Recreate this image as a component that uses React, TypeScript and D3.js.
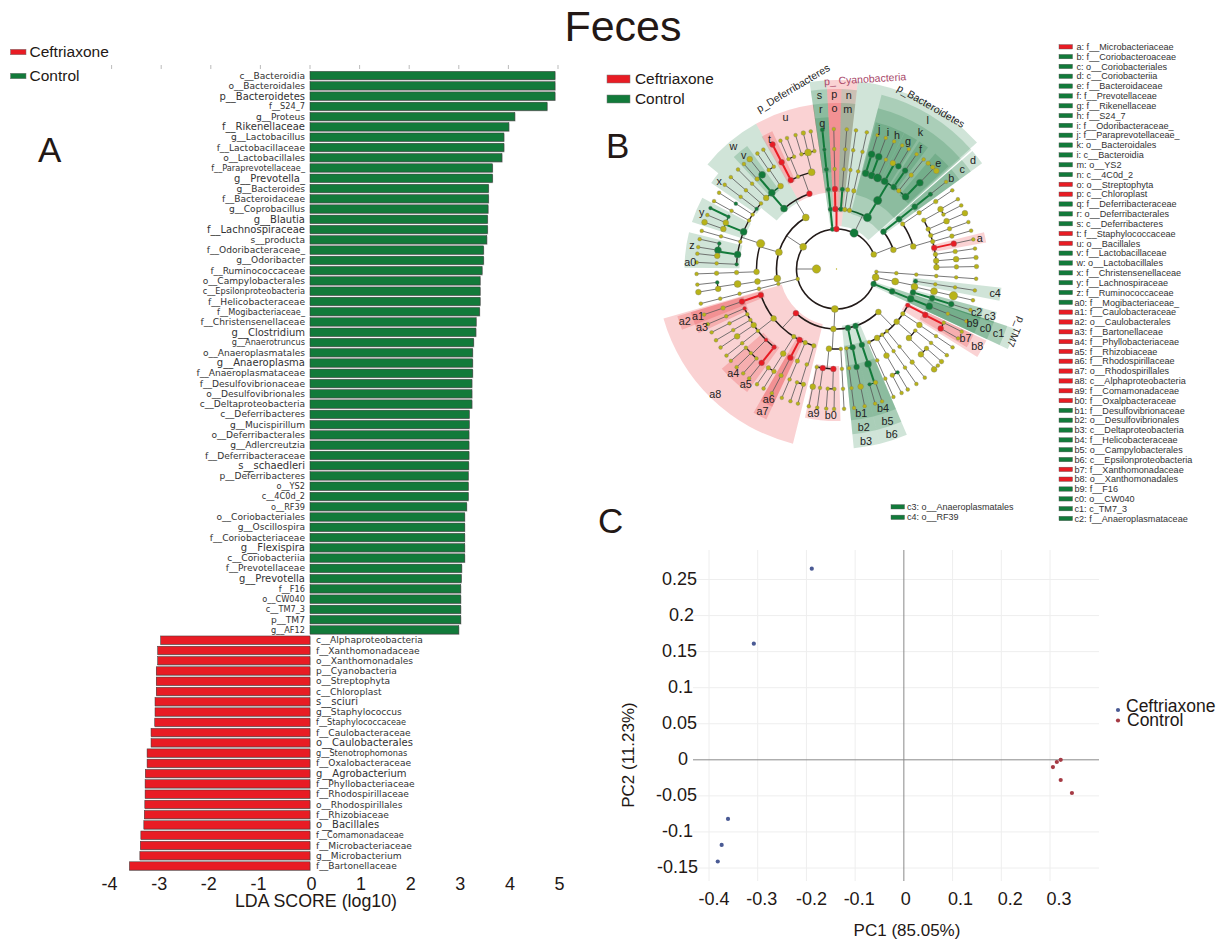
import React from "react";
import * as d3 from "d3";

// ---------- Panel A data ----------
const controlNames = ["c__Bacteroidia","o__Bacteroidales","p__Bacteroidetes","f__S24_7","g__Proteus","f__Rikenellaceae","g__Lactobacillus","f__Lactobacillaceae","o__Lactobacillales","f__Paraprevotellaceae_","g__Prevotella_","g__Bacteroides","f__Bacteroidaceae","g__Coprobacillus","g__Blautia","f__Lachnospiraceae","s__producta","f__Odoribacteraceae_","g__Odoribacter","f__Ruminococcaceae","o__Campylobacterales","c__Epsilonproteobacteria","f__Helicobacteraceae","f__Mogibacteriaceae_","f__Christensenellaceae","g__Clostridium","g__Anaerotruncus","o__Anaeroplasmatales","g__Anaeroplasma","f__Anaeroplasmataceae","f__Desulfovibrionaceae","o__Desulfovibrionales","c__Deltaproteobacteria","c__Deferribacteres","g__Mucispirillum","o__Deferribacterales","g__Adlercreutzia","f__Deferribacteraceae","s__schaedleri","p__Deferribacteres","o__YS2","c__4C0d_2","o__RF39","o__Coriobacteriales","g__Oscillospira","f__Coriobacteriaceae","g__Flexispira","c__Coriobacteriia","f__Prevotellaceae","g__Prevotella","f__F16","o__CW040","c__TM7_3","p__TM7","g__AF12"];
const controlScores = [4.94,4.94,4.94,4.78,4.13,4.01,3.91,3.91,3.87,3.68,3.68,3.6,3.6,3.59,3.58,3.58,3.565,3.5,3.5,3.47,3.43,3.43,3.43,3.42,3.35,3.345,3.3,3.28,3.28,3.28,3.265,3.265,3.265,3.21,3.21,3.205,3.205,3.205,3.2,3.19,3.19,3.19,3.16,3.12,3.12,3.12,3.12,3.12,3.06,3.05,3.04,3.04,3.04,3.04,3.0];
const ceftriaxoneNames = ["c__Alphaproteobacteria","f__Xanthomonadaceae","o__Xanthomonadales","p__Cyanobacteria","o__Streptophyta","c__Chloroplast","s__sciuri","g__Staphylococcus","f__Staphylococcaceae","f__Caulobacteraceae","o__Caulobacterales","g__Stenotrophomonas","f__Oxalobacteraceae","g__Agrobacterium","f__Phyllobacteriaceae","f__Rhodospirillaceae","o__Rhodospirillales","f__Rhizobiaceae","o__Bacillales","f__Comamonadaceae","f__Microbacteriaceae","g__Microbacterium","f__Bartonellaceae"];
const ceftriaxoneScores = [-3.01,-3.07,-3.07,-3.1,-3.1,-3.1,-3.125,-3.125,-3.13,-3.205,-3.205,-3.285,-3.285,-3.32,-3.325,-3.325,-3.33,-3.34,-3.35,-3.41,-3.42,-3.43,-3.64];
const ldaTicks = [-4,-3,-2,-1,0,1,2,3,4,5];
const largerLabels = new Set(["f__Rikenellaceae","g__Blautia","g__Clostridium","g__Anaeroplasma","s__schaedleri","g__Prevotella","s__sciuri","g__Agrobacterium","o__Bacillales","o__Caulobacterales","g__Flexispira","p__Bacteroidetes","g__Prevotella_","f__Lachnospiraceae"]);
const smallerLabels = new Set(["f__S24_7","o__YS2","c__4C0d_2","o__RF39","g__AF12","f__F16","o__CW040","c__TM7_3","f__Staphylococcaceae","g__Stenotrophomonas","f__Comamonadaceae","f__Paraprevotellaceae_","f__Mogibacteriaceae_","g__Anaerotruncus","c__Epsilonproteobacteria"]);

// ---------- Panel B data: clade legend ----------
const cladeLegend = ["a: f__Microbacteriaceae","b: f__Coriobacteroaceae","c: o__Coriobacteriales","d: c__Coriobacteriia","e: f__Bacteroidaceae","f: f__Prevotellaceae","g: f__Rikenellaceae","h: f__S24_7","i: f__Odoribacteraceae_","j: f__Paraprevotellaceae_","k: o__Bacteroidales","i: c__Bacteroidia","m: o__YS2","n: c__4C0d_2","o: o__Streptophyta","p: c__Chloroplast","q: f__Deferribacteraceae","r: o__Deferribacterales","s: c__Deferribacteres","t: f__Staphylococcaceae","u: o__Bacillales","v: f__Lactobacillaceae","w: o__Lactobacillales","x: f__Christensenellaceae","y: f__Lachnospiraceae","z: f__Ruminococcaceae","a0: f__Mogibacteriaceae_","a1: f__Caulobacteraceae","a2: o__Caulobacterales","a3: f__Bartonellaceae","a4: f__Phyllobacteriaceae","a5: f__Rhizobiaceae","a6: f__Rhodospirillaceae","a7: o__Rhodospirillales","a8: c__Alphaproteobacteria","a9: f__Comamonadaceae","b0: f__Oxalpbacteraceae","b1: f__Desulfovibrionaceae","b2: o__Desulfovibrionales","b3: c__Deltaproteobacteria","b4: f__Helicobacteraceae","b5: o__Campylobacterales","b6: c__Epsilonproteobacteria","b7: f__Xanthomonadaceae","b8: o__Xanthomonadales","b9: f__F16","c0: o__CW040","c1: c_TM7_3","c2: f__Anaeroplasmataceae"];
const cladeLegendExtra = ["c3: o__Anaeroplasmatales","c4: o__RF39"];
const redCladeKeys = new Set(["a","o","p","t","u","a1","a2","a3","a4","a5","a6","a7","a8","a9","b0","b7","b8"]);

// Cladogram nodes: angle in degrees clockwise from the top, then colour+size code.
type TreeNode = { a: number; s: string; children?: TreeNode[] };
const nd = (a: number, s: string, children?: TreeNode[]): TreeNode => ({ a, s, children });
const ch = (a: number, spec: string): TreeNode => {
  const [head, ...rest] = spec.split(" ");
  return rest.length ? nd(a, head, [ch(a, rest.join(" "))]) : nd(a, head);
};

const phylumDeferribacteres = ch(354.2, "g2 g2 g2 g2 g1 g2");
const phylumCyanobacteria = nd(0, "r3", [ch(358.9, "r3 r3 o1 o1 o1"), ch(4.2, "g2 g2 o1 o1 o1")]);
const familiesBacteroidales = [
  ch(17, "g4 g4 o1"), ch(20.6, "g4 g4 o1"), ch(24.3, "g5 o1 o1"),
  nd(28.8, "g4", [ch(28, "o3 o1"), ch(31.1, "g3 o1")]),
  ch(34.9, "g3 g3 o1"), ch(38.5, "o2 o2 o1"),
  nd(43.7, "g4", [nd(44, "g4", [ch(40.9, "o2"), ch(43.4, "o2"), ch(45.5, "o3")])]),
];
const phylumBacteroidetes = nd(26, "g5", [
  ch(8, "o2 o2 o1 o1 o1"), ch(12.5, "o2 o2 o1 o1 o1"),
  nd(31, "g5", [nd(31, "g5", familiesBacteroidales)]),
]);
const phylumActinobacteria = nd(68.6, "o3", [
  ch(51.5, "g3 g3 g3 g2 o1"),
  nd(71.4, "o3", [
    ch(55.8, "o2 o2 o2 o1"),
    nd(73.6, "o3", [
      nd(60.8, "o2", [ch(60.1, "o3 o1"), ch(63, "o1 o1")]),
      ch(66.5, "o2 o3 o3"), ch(70.4, "o2 o2 o1"), ch(74.1, "o2 o2 o1"),
      ch(77.8, "r3 r3 o1"), ch(81.6, "o2 o2 o1"), ch(85.3, "o3 o3 o2"), ch(89, "o3 o2 o2"),
    ]),
  ]),
]);
const phylumUpperRight = ch(94, "o1 o1 o1 o1 o1 o1");
const phylumTenericutes = nd(102, "o4", [
  nd(102, "o4", [ch(98.8, "g2 o1 o1 o1"), ch(102.9, "o4 o4 o5 o1"), ch(107, "g3 g3 g3 o1")]),
]);
const phylumTM7 = ch(111.9, "g3 g3 g4 g4 o1 o1");
const gammaOrders = [
  nd(117, "r2", [nd(117.4, "r3", [ch(116.6, "o1 o1"), ch(119.7, "r3 o1")])]),
  ch(124, "o2 o3 o1 o1"),
  nd(131.2, "o3", [
    ch(128, "o1 o1 o1"),
    nd(133.6, "o3", [ch(131.4, "o2 o2"), nd(135.3, "o3", [ch(133.6, "o1"), ch(135.8, "o3")])]),
  ]),
  ch(140.9, "o1 o1 o2 o1"), ch(145.2, "o1 o1 o1 o1"),
  nd(149.5, "o3", [nd(150, "o3", [ch(149.4, "g1 o1"), ch(152.3, "o2 o1")])]),
  ch(156, "o1 o1 o1 o1"),
];
const classEpsilon = nd(161.5, "g3", [nd(161.5, "g3", [nd(161.6, "g4", [ch(161, "o2 o1"), ch(164, "g1 o1")])])]);
const classDelta = nd(169, "g3", [ch(168.4, "g3 g3 o3 o1"), ch(172.8, "o1 o1 o1 o1")]);
const classBeta = nd(183, "o3", [
  ch(176.9, "o1 o1 o1 o1"),
  nd(185.4, "o3", [
    ch(191.4, "o1 o3 o1"), ch(187.9, "r3 o1 o1"),
    nd(181.8, "r3", [ch(184.2, "o1 o1"), ch(181, "o1 o1")]),
  ]),
]);
const classAlpha = nd(222.6, "r3", [
  ch(251, "r3 r3 o2 o1"),
  nd(231.8, "o3", [
    ch(246.8, "r1 o1 o1"), ch(243.1, "o1 o1 o1"), ch(239.4, "o1 o1 o1"), ch(235.9, "o3 o3 o1"), ch(231.8, "o1 o1 o1"),
    nd(224.8, "r1", [ch(229, "o1 o1"), ch(225.5, "o1 o1"), ch(221.8, "o1 o1")]),
    ch(218.6, "r2 r3 o1"),
  ]),
  nd(212.3, "o2", [nd(212.2, "o3", [ch(214.6, "o2 o1"), ch(211.4, "o2 o1")])]),
  ch(207.5, "r3 r3 o2 o1"), ch(203, "o2 o2 o1 o1"),
  nd(196.5, "o2", [nd(197.3, "o1", [ch(196, "o2 o1"), ch(199.2, "o1 o1")])]),
]);
const phylumProteobacteria = nd(182.4, "o4", [nd(135.7, "o3", gammaOrders), classEpsilon, classDelta, classBeta, classAlpha]);
const phylumLowerLeft = ch(255.7, "o1 o1 o1 o1 o1 o1");
const clostridialesFamilies = [
  ch(272.7, "g1 o1 o1"),
  nd(278.4, "g4", [ch(282.3, "g1 o1"), ch(279, "g4 o1"), ch(276.3, "o3 o1")]),
  ch(285.8, "o1 o1 o1"),
  nd(291.8, "g4", [ch(295.8, "g1 g1"), ch(292.7, "o3 o1"), ch(289.5, "o3 o3")]),
  ch(299, "o1 o1 o1"), ch(303, "o1 g1 o1"), ch(307, "g1 o1 o1"), ch(311, "o1 o1 o1"),
];
const lactobacillalesFamilies = [
  ch(315.3, "o3 o1 o1"),
  nd(319.7, "g4", [ch(318.6, "o2 o1"), ch(321.7, "g4 o3")]),
  nd(326, "o3", [ch(325.6, "o1 o1"), ch(328.5, "o1 o1")]),
];
const bacillalesFamilies = [
  ch(332.8, "r3 r3 r3"),
  nd(337.4, "o1", [ch(336.4, "o1 o1"), ch(339.3, "o1 o1")]),
  nd(345.6, "o4", [ch(343, "o1 o1"), ch(346.3, "o4 o2"), ch(349.4, "o1 o1")]),
];
const phylumFirmicutes = nd(303.6, "o4", [
  nd(261, "o4", [nd(261, "o3", [nd(261.4, "o4", [ch(263.6, "g1 o1"), ch(260.5, "o3 o3")])])]),
  nd(286.2, "o4", [ch(268, "o3 o2 o2 o1"), nd(288.5, "o5", clostridialesFamilies)]),
  nd(329.2, "o4", [nd(319, "g4", lactobacillalesFamilies), nd(340.2, "r3", bacillalesFamilies)]),
]);
const treeRoot = nd(270, "o5", [
  phylumTM7, phylumProteobacteria, phylumLowerLeft, phylumFirmicutes, phylumDeferribacteres,
  phylumCyanobacteria, phylumBacteroidetes, phylumActinobacteria, phylumUpperRight, phylumTenericutes,
]);

// Highlighted clades: letter, colour, taxonomic depth, start and end angle.
type Clade = [string, string, number, number, number];
const clades: Clade[] = [
  ["", "g", 2, 351.8, 357], ["s", "g", 3, 351.8, 357], ["r", "g", 4, 351.8, 357], ["q", "g", 5, 351.8, 357],
  ["", "r", 2, 357, 366.5], ["p", "r", 3, 357, 361.6], ["o", "r", 4, 357, 361.6], ["n", "g", 3, 361.6, 366.5], ["m", "g", 4, 361.6, 366.5],
  ["", "g", 2, 6.5, 48], ["l", "g", 3, 14.5, 48.5], ["k", "g", 4, 14.5, 48.5],
  ["j", "g", 5, 15, 18.8], ["i", "g", 5, 18.8, 22.4], ["h", "g", 5, 22.4, 26.4], ["g", "g", 5, 26.5, 32], ["f", "g", 5, 33, 37], ["e", "g", 5, 40.5, 47.5],
  ["d", "g", 3, 49, 54], ["c", "g", 4, 49, 54], ["b", "g", 5, 49, 54],
  ["a", "r", 5, 76, 80], ["c4", "g", 4, 96.5, 101],
  ["c3", "g", 4, 105, 109], ["c2", "g", 5, 105, 109],
  ["", "g", 2, 108.5, 115], ["c1", "g", 3, 108.5, 115], ["c0", "g", 4, 108.5, 115], ["b9", "g", 5, 108.5, 115],
  ["b8", "r", 4, 115.5, 122], ["b7", "r", 5, 115.5, 121],
  ["b6", "g", 3, 157, 166], ["b5", "g", 4, 157, 166], ["b4", "g", 5, 157, 166],
  ["b3", "g", 3, 166, 174.5], ["b2", "g", 4, 166, 174.5], ["b1", "g", 5, 166, 174.5],
  ["b0", "r", 5, 178.5, 186], ["a9", "r", 5, 186, 192],
  ["a8", "r", 3, 194, 254], ["a7", "r", 4, 205, 210], ["a6", "r", 5, 205, 210], ["a5", "r", 5, 216, 220.5], ["a4", "r", 5, 220.5, 229],
  ["a3", "r", 5, 245, 248.5], ["a2", "r", 4, 248.5, 253.5], ["a1", "r", 5, 248.5, 253.5],
  ["a0", "g", 5, 270.5, 275], ["z", "g", 5, 275, 284], ["y", "g", 5, 288, 298], ["x", "g", 5, 304.5, 309],
  ["w", "g", 4, 309, 331], ["v", "g", 5, 317.5, 324], ["u", "r", 4, 331, 352], ["t", "r", 5, 330.5, 335],
];

// ---------- Panel C data ----------
const ceftriaxonePC1 = [-0.189,-0.308,-0.361,-0.374,-0.382];
const ceftriaxonePC2 = [0.265,0.161,-0.082,-0.118,-0.141];
const controlPC1 = [0.322,0.314,0.306,0.322,0.345];
const controlPC2 = [0,-0.003,-0.01,-0.028,-0.046];
const pc1Ticks = [-0.4,-0.3,-0.2,-0.1,0,0.1,0.2,0.3];
const pc2Ticks = [-0.15,-0.1,-0.05,0,0.05,0.1,0.15,0.2,0.25];
const pc1LabelNudge = [5,4,5,4,2,8,9,9];
const pc2LabelNudge = [3,-2,2,-7,2,-2,2,-1,2];

// ---------- Styling ----------
const GREEN = "#127a3a";
const RED = "#e81c24";
const OLIVE = "#b8b318";
const INK = "#231815";
const SANS = "'Liberation Sans', Arial, sans-serif";
const DEJA = "'DejaVu Sans', sans-serif";
const colorOf: Record<string, string> = { g: GREEN, r: RED, o: OLIVE };
const sizeOf: Record<string, number> = { "1": 1.9, "2": 2.3, "3": 2.9, "4": 3.5, "5": 4.2 };

const CX = 836.5;
const CY = 269;
const levelRadius = d3.scaleLinear().domain([0, 6]).range([20, 140]);
const cladeOuter: Record<number, number> = { 2: 189, 3: 180, 4: 166, 5: 152 };
const cladeInner: Record<number, number> = { 2: 43, 3: 57, 4: 77, 5: 97 };
const rad = (deg: number) => (deg * Math.PI) / 180;
const polar = (r: number, deg: number) => [CX + r * Math.sin(rad(deg)), CY - r * Math.cos(rad(deg))];

function BarsPanel() {
  const names = [...controlNames, ...ceftriaxoneNames];
  const scores = [...controlScores, ...ceftriaxoneScores];
  const x = d3.scaleLinear().domain([0, 5]).range([310, 558]);
  const y = d3.scaleBand<string>().domain(names).range([70.4, 871.1]).paddingInner(0.19).paddingOuter(0.095);
  const h = y.bandwidth();
  return (
    <g>
      {ldaTicks.map((t) => (
        <line key={t} x1={x(t)} x2={x(t)} y1={65} y2={69} stroke="#aaa" strokeWidth={0.8} />
      ))}
      {names.map((n, i) => {
        const v = scores[i];
        const x0 = Math.min(x(0), x(v));
        const w = Math.abs(x(v) - x(0));
        const cy = (y(n) as number) + h / 2;
        const fs = largerLabels.has(n) ? 10 : smallerLabels.has(n) ? 8.2 : 9.1;
        return (
          <g key={n}>
            <rect x={x0} y={(y(n) as number) + 0.8} width={w + 0.6} height={h} fill="#b5b5b5" />
            <rect x={x0} y={y(n)} width={w} height={h} fill={v > 0 ? GREEN : RED} stroke="#3a3a3a" strokeWidth={0.5} />
            <text x={v > 0 ? 305 : 316} y={cy} dy="0.35em" textAnchor={v > 0 ? "end" : "start"} fontFamily={DEJA} fontSize={fs} fill="#333">{n}</text>
          </g>
        );
      })}
      {ldaTicks.map((t) => (
        <text key={t} x={x(t) + (t < 0 ? -2 : 1.5)} y={890} textAnchor="middle" fontFamily={SANS} fontSize={18} fill={INK}>{t}</text>
      ))}
      <text x={316} y={906.5} textAnchor="middle" fontFamily={SANS} fontSize={17.8} fill={INK}>LDA SCORE (log10)</text>
    </g>
  );
}

function Cladogram() {
  const root = d3.hierarchy<TreeNode>(treeRoot);
  const nodes = root.descendants();
  const sectorArc = d3.arc<Clade>()
    .innerRadius((c) => cladeInner[c[2]])
    .outerRadius((c) => cladeOuter[c[2]])
    .startAngle((c) => rad(c[3]))
    .endAngle((c) => rad(c[4]));
  const arcWidth = [1.6, 1.6, 1.5, 1.4, 1.2, 0.9];
  return (
    <g>
      {clades.map((c, i) => (
        <path key={i} d={sectorArc(c) as string} transform={`translate(${CX},${CY})`} fill={colorOf[c[1]]} fillOpacity={0.2} stroke="none" />
      ))}
      {nodes.filter((n) => n.children).map((n, i) => {
        const rp = levelRadius(n.depth);
        const rc = levelRadius(n.depth + 1);
        const kids = n.children as d3.HierarchyNode<TreeNode>[];
        const rel = kids.map((k) => ((k.data.a - n.data.a + 540) % 360) - 180);
        const lo = Math.min(0, ...rel);
        const hi = Math.max(0, ...rel);
        const sig = n.data.s[0] !== "o";
        const near = kids.some((k, j) => k.data.s[0] === n.data.s[0] && Math.abs(rel[j]) <= 4);
        const [x1, y1] = polar(rp, n.data.a);
        const [x2, y2] = polar(rc, n.data.a);
        const arcPath = d3.path();
        arcPath.arc(CX, CY, rc, rad(n.data.a + lo - 90), rad(n.data.a + hi - 90));
        const strong = sig && near;
        return (
          <g key={i}>
            <line x1={x1} y1={y1} x2={x2} y2={y2} stroke={strong ? colorOf[n.data.s[0]] : "#555"} strokeWidth={strong ? 2 : 0.8} />
            {hi - lo > 0.01 && (
              <path d={arcPath.toString()} fill="none" stroke={n.data.s[0] === "g" ? "#0d5c2c" : "#221a18"} strokeWidth={arcWidth[n.depth]} />
            )}
          </g>
        );
      })}
      {nodes.map((n, i) => {
        const [x, y] = polar(levelRadius(n.depth), n.data.a);
        return <circle key={i} cx={x} cy={y} r={sizeOf[n.data.s[1]]} fill={colorOf[n.data.s[0]]} stroke="#777" strokeWidth={0.35} />;
      })}
      <circle cx={CX} cy={CY} r={0.7} fill={OLIVE} />
      {clades.filter((c) => c[0]).map((c, i) => {
        const mid = (c[3] + c[4]) / 2;
        const [x, y] = polar(cladeOuter[c[2]] - 5.5, mid);
        return <text key={i} x={x} y={y} dy="0.35em" textAnchor="middle" fontFamily={SANS} fontSize={10.8} fill="#222">{c[0]}</text>;
      })}
      <text transform="translate(793,88) rotate(-31)" textAnchor="middle" dy="0.35em" fontFamily={SANS} fontSize={10.5} fill="#222">p_Deferribacteres</text>
      <text transform="translate(865,79) rotate(-3.5)" textAnchor="middle" dy="0.35em" fontFamily={SANS} fontSize={10.5} fill="#a8486a">p_ Cyanobacteria</text>
      <text transform="translate(931,106) rotate(30)" textAnchor="middle" dy="0.35em" fontFamily={SANS} fontSize={10.5} fill="#222">p_Bacteroidetes</text>
      <text transform="translate(1016,332) rotate(112)" textAnchor="middle" dy="0.35em" fontFamily={SANS} fontSize={10} fill="#222">p_TM7</text>
    </g>
  );
}

function CladeLegend() {
  const y = d3.scalePoint<string>().domain(cladeLegend).range([47, 518.7]);
  const keyOf = (s: string) => s.split(":")[0];
  const row = (label: string, swatchX: number, textX: number, cy: number, fs: number) => (
    <g key={label}>
      <rect x={swatchX} y={cy - 2.4} width={13.5} height={4.4} fill={redCladeKeys.has(keyOf(label)) ? RED : GREEN} stroke="#555" strokeWidth={0.4} />
      <text x={textX} y={cy} dy="0.33em" fontFamily={SANS} fontSize={fs} fill="#333">{label}</text>
    </g>
  );
  const extra = d3.scalePoint<string>().domain(cladeLegendExtra).range([507, 517.5]);
  return (
    <g>
      {cladeLegend.map((l) => row(l, 1059, keyOf(l).length > 1 ? 1074.5 : 1076.5, y(l) as number, 9.1))}
      {cladeLegendExtra.map((l) => row(l, 891, 907, extra(l) as number, 9))}
    </g>
  );
}

function PCoA() {
  const x = d3.scaleLinear().domain([-0.4, 0.3]).range([709, 1050]);
  const y = d3.scaleLinear().domain([-0.15, 0.25]).range([868, 579.5]);
  const left = 693, right = 1099, top = 550, bottom = 881;
  return (
    <g>
      {pc1Ticks.filter((t) => t !== 0).map((t) => (
        <line key={t} x1={x(t)} x2={x(t)} y1={top} y2={bottom} stroke="#eeeeee" strokeWidth={1} />
      ))}
      {pc2Ticks.filter((t) => t !== 0).map((t) => (
        <line key={t} x1={left} x2={right} y1={y(t)} y2={y(t)} stroke="#eeeeee" strokeWidth={1} />
      ))}
      <line x1={x(0)} x2={x(0)} y1={top} y2={bottom} stroke="#8a8a8a" strokeWidth={1} />
      <line x1={left} x2={right} y1={y(0)} y2={y(0)} stroke="#8a8a8a" strokeWidth={1} />
      {ceftriaxonePC1.map((v, i) => (
        <circle key={i} cx={x(v)} cy={y(ceftriaxonePC2[i])} r={2.1} fill="#4a5a94" />
      ))}
      {controlPC1.map((v, i) => (
        <circle key={i} cx={x(v)} cy={y(controlPC2[i])} r={2.1} fill="#a53a44" />
      ))}
      {pc1Ticks.map((t, i) => (
        <text key={t} x={x(t) + pc1LabelNudge[i]} y={905} textAnchor="middle" fontFamily={SANS} fontSize={18} fill={INK}>{t}</text>
      ))}
      {pc2Ticks.map((t, i) => (
        <text key={t} x={695 + pc2LabelNudge[i]} y={y(t)} dy="0.3em" textAnchor="end" fontFamily={SANS} fontSize={18} fill={INK}>{t}</text>
      ))}
      <text x={907} y={936} textAnchor="middle" fontFamily={SANS} fontSize={17} fill={INK}>PC1 (85.05%)</text>
      <text transform="translate(634,755) rotate(-90)" textAnchor="middle" fontFamily={SANS} fontSize={17} fill={INK}>PC2 (11.23%)</text>
      <circle cx={1118} cy={710} r={2.1} fill="#4a5a94" />
      <circle cx={1118} cy={720.5} r={2.1} fill="#a53a44" />
      <text x={1126} y={712} fontFamily={SANS} fontSize={17.5} fill={INK}>Ceftriaxone</text>
      <text x={1127} y={726} fontFamily={SANS} fontSize={17.5} fill={INK}>Control</text>
    </g>
  );
}

function GroupLegend({ x, y0, y1, w, h, tx, fs }: { x: number; y0: number; y1: number; w: number; h: number; tx: number; fs: number }) {
  return (
    <g>
      <rect x={x} y={y0 - h / 2} width={w} height={h} fill={RED} stroke="#777" strokeWidth={0.5} />
      <rect x={x} y={y1 - h / 2} width={w} height={h} fill={GREEN} stroke="#777" strokeWidth={0.5} />
      <text x={tx} y={y0} dy="0.35em" fontFamily={SANS} fontSize={fs} fill={INK}>Ceftriaxone</text>
      <text x={tx} y={y1} dy="0.35em" fontFamily={SANS} fontSize={fs} fill={INK}>Control</text>
    </g>
  );
}

export default function App() {
  return (
    <svg width={1222} height={940} viewBox="0 0 1222 940" style={{ position: "absolute", left: 0, top: 0, display: "block", background: "#fff" }}>
      <text x={623} y={41} textAnchor="middle" fontFamily={SANS} fontSize={43} fill={INK}>Feces</text>
      <text x={38} y={162} fontFamily={SANS} fontSize={35} fill={INK}>A</text>
      <text x={606} y={158} fontFamily={SANS} fontSize={35} fill={INK}>B</text>
      <text x={598} y={533} fontFamily={SANS} fontSize={35} fill={INK}>C</text>
      <GroupLegend x={10.5} y0={52} y1={76} w={15.5} h={5.5} tx={29.5} fs={15.5} />
      <GroupLegend x={607} y0={79} y1={99} w={23} h={8} tx={635} fs={15.4} />
      <BarsPanel />
      <Cladogram />
      <CladeLegend />
      <PCoA />
    </svg>
  );
}
